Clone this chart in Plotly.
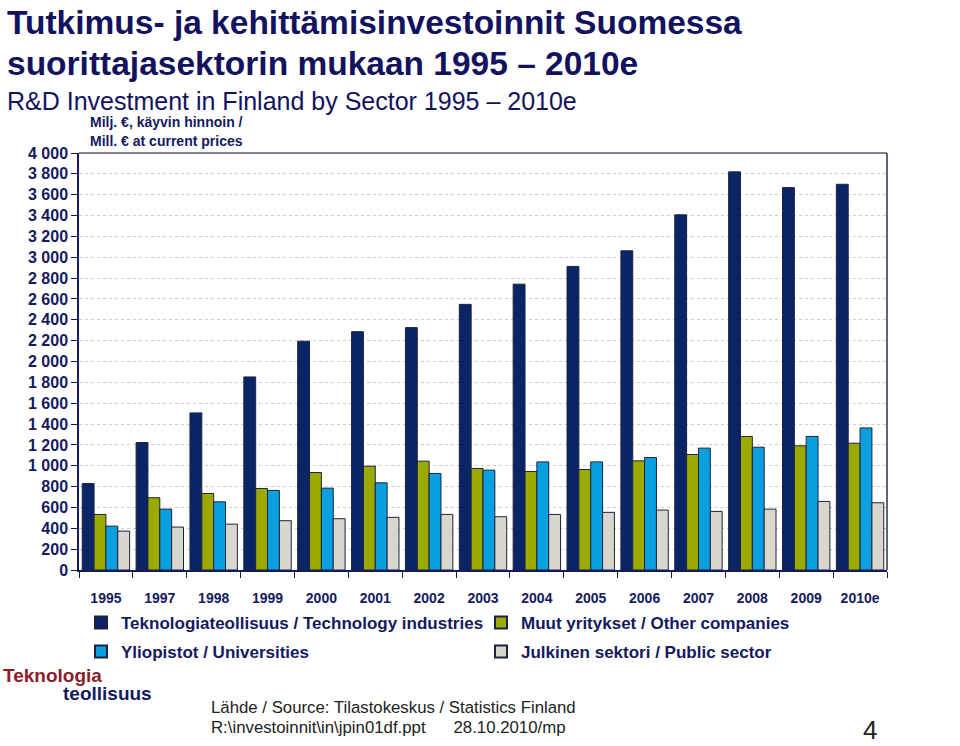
import plotly.graph_objects as go

years = ["1995", "1997", "1998", "1999", "2000", "2001", "2002", "2003",
         "2004", "2005", "2006", "2007", "2008", "2009", "2010e"]
tech = [830, 1223, 1507, 1852, 2194, 2286, 2325, 2548, 2742, 2912, 3062, 3407, 3819, 3668, 3700]
other = [533, 693, 734, 782, 935, 996, 1044, 974, 945, 964, 1047, 1108, 1281, 1191, 1216]
univ = [421, 584, 654, 763, 785, 836, 926, 958, 1037, 1037, 1079, 1169, 1178, 1281, 1363]
public = [373, 412, 440, 473, 492, 505, 533, 511, 533, 553, 575, 562, 584, 658, 645]

series_names = ["Teknologiateollisuus / Technology industries",
                "Muut yritykset / Other companies",
                "Yliopistot / Universities",
                "Julkinen sektori / Public sector"]
series_vals = [tech, other, univ, public]
colors = ["#0a2466", "#9caa00", "#0aa0e0", "#d9d6ce"]
legend_ids = ["legend", "legend2", "legend", "legend2"]

ytick_vals = list(range(0, 4001, 200))
ytick_text = ["0", "200", "400", "600", "800", "1 000", "1 200", "1 400", "1 600",
              "1 800", "2 000", "2 200", "2 400", "2 600", "2 800", "3 000",
              "3 200", "3 400", "3 600", "3 800", "4 000"]

NAVY = "#141a5e"
L, R, T, B = 79, 887, 152.5, 570


def px(x):
    return (x - L) / (R - L)


def py(y):
    return (B - y) / (B - T)


fig = go.Figure()
for i, (name, vals, col, lg) in enumerate(zip(series_names, series_vals, colors, legend_ids)):
    fig.add_trace(go.Bar(x=years, y=vals, name=name, legend=lg, legendgroup=f"g{i}",
                         marker=dict(color=col, line=dict(color="#1c2340", width=1))))

legend_font = dict(family="Arial", size=17, color=NAVY, weight="bold")
fig.update_layout(
    width=960, height=746,
    margin=dict(l=L, r=960 - R, t=T, b=746 - B),
    paper_bgcolor="white", plot_bgcolor="white",
    barmode="group", bargap=0.12, bargroupgap=0,
    showlegend=True,
    legend=dict(orientation="v", x=px(81), y=py(605), xanchor="left", yanchor="top",
                font=legend_font, tracegroupgap=4, traceorder="grouped",
                itemsizing="constant", bgcolor="rgba(0,0,0,0)"),
    legend2=dict(orientation="v", x=px(481), y=py(605), xanchor="left", yanchor="top",
                 font=legend_font, tracegroupgap=4, traceorder="grouped",
                 itemsizing="constant", bgcolor="rgba(0,0,0,0)"),
    xaxis=dict(showgrid=False, showline=True, linecolor=NAVY, linewidth=1.5,
               ticks="outside", tickson="boundaries", ticklen=6, tickcolor=NAVY,
               ticklabelstandoff=14,
               tickfont=dict(family="Arial", size=14, color=NAVY, weight="bold"),
               mirror=False),
    yaxis=dict(range=[0, 4000], tickvals=ytick_vals, ticktext=ytick_text,
               showgrid=True, gridcolor="#cccccc", griddash="dot", gridwidth=1,
               showline=True, linecolor=NAVY, linewidth=1.5,
               ticks="outside", ticklen=6, tickcolor=NAVY,
               tickfont=dict(family="Arial", size=16, color=NAVY, weight="bold"),
               zeroline=False),
    font=dict(family="Arial"),
)

# frame: top and right borders
fig.add_shape(type="line", xref="paper", yref="paper", x0=0, x1=1, y0=1, y1=1,
              line=dict(color="#555a66", width=1.5))
fig.add_shape(type="line", xref="paper", yref="paper", x0=1, x1=1, y0=0, y1=1,
              line=dict(color="#2a3050", width=1.5))

texts = [
    dict(text="Tutkimus- ja kehittämisinvestoinnit Suomessa", x=5, y=22, size=33.5, color="#12125e", w="bold"),
    dict(text="suorittajasektorin mukaan 1995 – 2010e", x=5, y=63, size=33.5, color="#12125e", w="bold"),
    dict(text="R&D Investment in Finland by Sector 1995 – 2010e", x=5, y=100, size=25, color="#12125e", w="normal"),
    dict(text="Milj. €, käyvin hinnoin /", x=88, y=121, size=14, color=NAVY, w="bold"),
    dict(text="Mill. € at current prices", x=88, y=140, size=14, color=NAVY, w="bold"),
    dict(text="Teknologia", x=1, y=676, size=19, color="#8c1c2c", w="bold"),
    dict(text="teollisuus", x=61, y=694, size=19, color=NAVY, w="bold"),
    dict(text="Lähde / Source: Tilastokeskus / Statistics Finland", x=209, y=708, size=16.8, color="#222222", w="normal"),
    dict(text="R:\\investoinnit\\in\\jpin01df.ppt      28.10.2010/mp", x=209, y=728, size=16.8, color="#222222", w="normal"),
    dict(text="4", x=861, y=730, size=26, color="#222222", w="normal"),
]
for t in texts:
    fig.add_annotation(text=t["text"], xref="paper", yref="paper",
                       x=px(t["x"]), y=py(t["y"]),
                       xanchor="left", yanchor="middle", showarrow=False,
                       font=dict(family="Arial", size=t["size"], color=t["color"], weight=t["w"]))

fig.write_html("out.html", config={"displayModeBar": False},
               post_script="document.body.style.margin='0';")
